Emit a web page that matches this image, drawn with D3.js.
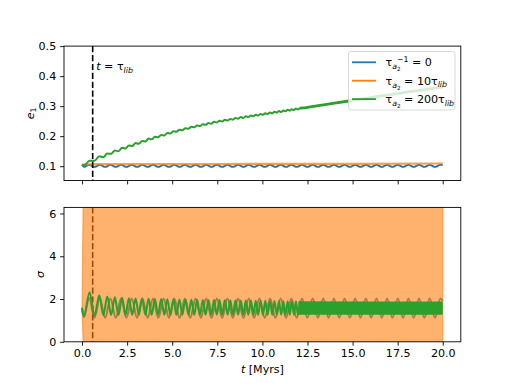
<!DOCTYPE html>
<html><head><meta charset="utf-8">
<script src="https://cdn.jsdelivr.net/npm/d3@7"></script>
<style>body{margin:0;background:#fff} text{font-family:"DejaVu Sans",sans-serif; white-space:pre}</style>
</head><body><svg id="c" width="512" height="384"></svg>
<script>
// ---------------- data ----------------
const tTicks = [0, 2.5, 5, 7.5, 10, 12.5, 15, 17.5, 20];
const eTicks = [0.1, 0.2, 0.3, 0.4, 0.5];
const sigmaTicks = [0, 2, 4, 6];
const tLib = 0.59;
const seriesColors = ["#1f77b4", "#ff7f0e", "#2ca02c"];

// blue: tau_a2^-1 = 0 (extrema times)
const blueT = [0, 0.1, 0.395, 0.69, 0.985, 1.28, 1.575, 1.87, 2.165, 2.46, 2.755,
  3.05, 3.345, 3.64, 3.935, 4.23, 4.525, 4.82, 5.115, 5.41, 5.705,
  6.0, 6.295, 6.59, 6.885, 7.18, 7.475, 7.77, 8.065, 8.36, 8.655,
  8.95, 9.245, 9.54, 9.835, 10.13, 10.425, 10.72, 11.015, 11.31, 11.605,
  11.9, 12.195, 12.49, 12.785, 13.08, 13.375, 13.67, 13.965, 14.26, 14.555,
  14.85, 15.145, 15.44, 15.735, 16.03, 16.325, 16.62, 16.915, 17.21, 17.505,
  17.8, 18.095, 18.39, 18.685, 18.98, 19.275, 19.57, 19.865, 20.0];
const blueE = [0.105,
  0.0975,0.1045, 0.0975,0.1045, 0.0975,0.1045, 0.0975,0.1045, 0.0975,0.1045,
  0.0975,0.1045, 0.0975,0.1045, 0.0975,0.1045, 0.0975,0.1045, 0.0975,0.1045,
  0.0975,0.1045, 0.0975,0.1045, 0.0975,0.1045, 0.0975,0.1045, 0.0975,0.1045,
  0.0975,0.1045, 0.0975,0.1045, 0.0975,0.1045, 0.0975,0.1045, 0.0975,0.1045,
  0.0975,0.1045, 0.0975,0.1045, 0.0975,0.1045, 0.0975,0.1045, 0.0975,0.1045,
  0.0975,0.1045, 0.0975,0.1045, 0.0975,0.1045, 0.0975,0.1045, 0.0975,0.1045,
  0.0975,0.1045, 0.0975,0.1045, 0.0975,0.1045, 0.0975,0.1045,
  0.1035];
const blueSigma = [1.55,
  1.15,2.05, 1.13,2.03, 1.12,2.02, 1.12,2.02, 1.12,2.02,
  1.12,2.02, 1.12,2.02, 1.12,2.02, 1.12,2.02, 1.12,2.02,
  1.12,2.02, 1.12,2.02, 1.12,2.02, 1.12,2.02, 1.12,2.02,
  1.12,2.02, 1.12,2.02, 1.12,2.02, 1.12,2.02, 1.12,2.02,
  1.12,2.02, 1.12,2.02, 1.12,2.02, 1.12,2.02, 1.12,2.02,
  1.12,2.02, 1.12,2.02, 1.12,2.02, 1.12,2.02, 1.12,2.02,
  1.12,2.02, 1.12,2.02, 1.12,2.02, 1.12,2.02,
  1.9];

// orange: tau_a2 = 10 tau_lib
const orangeET = [0, 1, 2, 5, 10, 15, 20];
const orangeE = [0.105, 0.1068, 0.107, 0.107, 0.1075, 0.108, 0.109];
const orangeSigmaT = [0, 0.06, 20];
const orangeSigmaLo = [1.55, 0, 0];
const orangeSigmaHi = [1.55, 6.283, 6.283];

// green: tau_a2 = 200 tau_lib (extrema times up to t = 12)
const greenT = [0, 0.1, 0.42, 0.69, 0.96, 1.18, 1.40, 1.61, 1.82, 2.02, 2.22, 2.41, 2.60, 2.78,
  2.97, 3.15, 3.33, 3.51, 3.69, 3.86, 4.04, 4.21, 4.39, 4.56, 4.73, 4.90, 5.07, 5.23, 5.40,
  5.56, 5.73, 5.90, 6.06, 6.22, 6.38, 6.54, 6.70, 6.85, 7.01, 7.16, 7.32, 7.47, 7.62, 7.77,
  7.92, 8.07, 8.22, 8.36, 8.51, 8.65, 8.80, 8.94, 9.08, 9.22, 9.36, 9.50, 9.63, 9.76, 9.90,
  10.03, 10.16, 10.29, 10.42, 10.55, 10.67, 10.80, 10.92, 11.04, 11.16, 11.28, 11.40, 11.52,
  11.63, 11.75, 11.86, 11.97, 12.08];
const greenSigma = [1.6, 1.2, 2.32,
  1.22,2.18, 1.24,2.12, 1.25,2.08, 1.25,2.06, 1.26,2.04, 1.26,2.03, 1.26,2.02, 1.26,2.01,
  1.26,2.0, 1.26,2.0, 1.26,1.99, 1.26,1.99, 1.26,1.98, 1.26,1.98, 1.26,1.97, 1.26,1.97,
  1.26,1.96, 1.26,1.96, 1.26,1.95, 1.26,1.95, 1.26,1.95, 1.26,1.94, 1.26,1.94, 1.26,1.93,
  1.26,1.93, 1.26,1.93, 1.26,1.92, 1.26,1.92, 1.26,1.92, 1.26,1.91, 1.26,1.91, 1.26,1.91,
  1.26,1.9, 1.26,1.9, 1.26,1.9, 1.26,1.89, 1.26,1.89];
const greenE = [0.105, 0.103, 0.118,
  0.118,0.133, 0.130,0.142, 0.141,0.152, 0.150,0.161, 0.159,0.169, 0.167,0.177,
  0.1745,0.184, 0.182,0.192, 0.1895,0.198, 0.196,0.204, 0.2025,0.2105, 0.2087,0.2161,
  0.2145,0.2211, 0.2195,0.2261, 0.2247,0.2311, 0.2295,0.2357, 0.2337,0.2398, 0.2377,0.2437,
  0.2417,0.2477, 0.2456,0.2512, 0.2488,0.2544, 0.2519,0.2575, 0.2549,0.2605, 0.258,0.2635,
  0.2608,0.2662, 0.2635,0.2689, 0.2662,0.2714, 0.2687,0.274, 0.2713,0.2765, 0.2737,0.2789,
  0.2761,0.2812, 0.2784,0.2835, 0.2806,0.2857, 0.2828,0.2879, 0.285,0.29, 0.2871,0.2921,
  0.2891,0.2941];
const greenTailT = [12.08, 12.5, 13, 14, 15, 16, 17, 18, 19, 20];
const greenTailE = [0.293, 0.296, 0.3006, 0.310, 0.319, 0.328, 0.3374, 0.3464, 0.355, 0.364];
const greenBandT = [12.0, 16, 20];
const greenBandLo = [1.26, 1.26, 1.26];
const greenBandHi = [1.9, 1.88, 1.88];

// ---------------- layout ----------------
const svg = d3.select("#c");
const L = 64, R = 460.8;
const top1 = 46.1, bot1 = 180.5, top2 = 207.4, bot2 = 341.8;
const FS = 11.1;
const x = d3.scaleLinear([-1, 21], [L, R]);
const yE = d3.scaleLinear([0.0523, 0.5], [bot1, top1]);
const yS = d3.scaleLinear([0, 2 * Math.PI], [bot2, top2]);

const defs = svg.append("defs");
defs.append("clipPath").attr("id", "clip1").append("rect")
  .attr("x", L).attr("y", top1).attr("width", R - L).attr("height", bot1 - top1);
defs.append("clipPath").attr("id", "clip2").append("rect")
  .attr("x", L).attr("y", top2).attr("width", R - L).attr("height", bot2 - top2);

const zipPts = (T, V) => T.slice(0, Math.min(T.length, V.length)).map((t, i) => [t, V[i]]);

function styleAxis(g) {
  g.select(".domain").remove();
  g.selectAll(".tick line").attr("stroke", "#000").attr("stroke-width", 0.9);
  g.selectAll(".tick text").attr("fill", "#000").style("font-size", FS + "px")
    .style("font-family", "DejaVu Sans");
}

// ---------- top panel ----------
const p1 = svg.append("g").attr("clip-path", "url(#clip1)");
const lineE = d3.line().x(d => x(d[0])).y(d => yE(d[1])).curve(d3.curveMonotoneX);
p1.append("path").attr("d", lineE(zipPts(blueT, blueE))).attr("fill", "none")
  .attr("stroke", seriesColors[0]).attr("stroke-width", 1.8);
p1.append("path").attr("d", lineE(zipPts(orangeET, orangeE))).attr("fill", "none")
  .attr("stroke", seriesColors[1]).attr("stroke-opacity", 0.75).attr("stroke-width", 2.2);
p1.append("path").attr("d", lineE(zipPts(greenT, greenE))).attr("fill", "none")
  .attr("stroke", seriesColors[2]).attr("stroke-width", 2);
p1.append("path").attr("d", lineE(zipPts(greenTailT, greenTailE))).attr("fill", "none")
  .attr("stroke", seriesColors[2]).attr("stroke-width", 2.8);
p1.append("line").attr("x1", x(tLib)).attr("x2", x(tLib)).attr("y1", top1).attr("y2", bot1)
  .attr("stroke", "#000").attr("stroke-width", 1.6).attr("stroke-dasharray", "6.2,2.7");

svg.append("g").attr("transform", `translate(0,${bot1})`)
  .call(d3.axisBottom(x).tickValues(tTicks).tickSize(3.9).tickFormat(""))
  .call(styleAxis);
svg.append("g").attr("transform", `translate(${L},0)`)
  .call(d3.axisLeft(yE).tickValues(eTicks).tickSize(3.9).tickPadding(3.9).tickFormat(d3.format(".1f")))
  .call(styleAxis);
svg.append("rect").attr("x", L).attr("y", top1).attr("width", R - L).attr("height", bot1 - top1)
  .attr("fill", "none").attr("stroke", "#000").attr("stroke-width", 0.9);

// ---------- bottom panel ----------
const p2 = svg.append("g").attr("clip-path", "url(#clip2)");
const lineS = d3.line().x(d => x(d[0])).y(d => yS(d[1])).curve(d3.curveMonotoneX);
p2.append("path").attr("d", lineS(zipPts(blueT, blueSigma))).attr("fill", "none")
  .attr("stroke", seriesColors[0]).attr("stroke-width", 2);
p2.append("line").attr("x1", x(tLib)).attr("x2", x(tLib)).attr("y1", top2).attr("y2", bot2)
  .attr("stroke", "#000").attr("stroke-width", 1.6).attr("stroke-dasharray", "6.2,2.7");
const orangeBand = orangeSigmaT.map((t, i) => ({ t, lo: orangeSigmaLo[i], hi: orangeSigmaHi[i] }));
p2.append("path").attr("d", d3.area().x(d => x(d.t)).y0(d => yS(d.lo)).y1(d => yS(d.hi))(orangeBand))
  .attr("fill", seriesColors[1]).attr("fill-opacity", 0.6)
  .attr("stroke", seriesColors[1]).attr("stroke-opacity", 0.6).attr("stroke-width", 1.2);
p2.append("path").attr("d", lineS(zipPts(greenT, greenSigma))).attr("fill", "none")
  .attr("stroke", seriesColors[2]).attr("stroke-width", 2);
const gBand = greenBandT.map((t, i) => ({ t, lo: greenBandLo[i], hi: greenBandHi[i] }));
p2.append("path").attr("d", d3.area().x(d => x(d.t)).y0(d => yS(d.lo)).y1(d => yS(d.hi))(gBand))
  .attr("fill", seriesColors[2]);

svg.append("g").attr("transform", `translate(0,${bot2})`)
  .call(d3.axisBottom(x).tickValues(tTicks).tickSize(3.9).tickPadding(3.9).tickFormat(d3.format(".1f")))
  .call(styleAxis);
svg.append("g").attr("transform", `translate(${L},0)`)
  .call(d3.axisLeft(yS).tickValues(sigmaTicks).tickSize(3.9).tickPadding(3.9).tickFormat(d3.format("d")))
  .call(styleAxis);
svg.append("rect").attr("x", L).attr("y", top2).attr("width", R - L).attr("height", bot2 - top2)
  .attr("fill", "none").attr("stroke", "#000").attr("stroke-width", 0.9);

// ---------- math-like text helper ----------
// segs: {t, fs, dy, it, back}  back: start at previous segment's start x (stacked sub/sup)
function mathText(parent, segs, anchor) {
  const g = parent.append("g");
  let cur = 0, prevStart = 0, prevEnd = 0, stackEnd = 0;
  segs.forEach(s => {
    const fs = s.fs || FS;
    const sx = s.back ? prevStart : cur;
    const el = g.append("text").attr("x", sx).attr("y", s.dy || 0)
      .style("font-size", fs + "px").style("font-style", s.it ? "italic" : "normal")
      .attr("fill", "#000").text(s.t);
    const w = el.node().getComputedTextLength();
    if (s.back) { cur = Math.max(prevEnd, sx + w); }
    else { prevStart = sx; cur = sx + w; }
    prevEnd = Math.max(prevEnd, cur);
    if (!s.back) prevEnd = cur;
    if (s.sticky) prevStart = sx;
  });
  const total = cur;
  if (anchor === "middle") g.selectAll("text").attr("x", function () { return +d3.select(this).attr("x") - total / 2; });
  return g;
}

// annotation t = tau_lib
mathText(svg.append("g").attr("transform", `translate(${x(tLib) + 3.5},70)`), [
  { t: "t", it: true }, { t: " = " }, { t: "τ" }, { t: "lib", it: true, fs: 7.8, dy: 2.6 }
]);

// axis labels
mathText(svg.append("g").attr("transform", `translate(33.5,${(top1 + bot1) / 2}) rotate(-90)`), [
  { t: "e", it: true }, { t: "1", fs: 7.8, dy: 2.6 }
], "middle");
mathText(svg.append("g").attr("transform", `translate(43.5,${(top2 + bot2) / 2}) rotate(-90)`), [
  { t: "σ", it: true }
], "middle");
mathText(svg.append("g").attr("transform", `translate(${(L + R) / 2},372.5)`), [
  { t: "t", it: true }, { t: " [Myrs]" }
], "middle");

// ---------- legend ----------
const lg = svg.append("g");
lg.append("rect").attr("x", 348.5).attr("y", 51.5).attr("width", 106.5).attr("height", 58.5)
  .attr("rx", 2.5).attr("fill", "#fff").attr("fill-opacity", 0.8)
  .attr("stroke", "#cccccc").attr("stroke-opacity", 0.8).attr("stroke-width", 0.9);
const rowsY = [62.3, 80.7, 99.1];
const legendLabels = [
  [{ t: "τ" }, { t: "a", it: true, fs: 7.8, dy: 3.0 }, { t: "2", fs: 5.6, dy: 5.2 },
   { t: "−1", fs: 7.8, dy: -4.6, back: true }, { t: " = 0" }],
  [{ t: "τ" }, { t: "a", it: true, fs: 7.8, dy: 3.0 }, { t: "2", fs: 5.6, dy: 5.2 },
   { t: " = 10τ" }, { t: "lib", it: true, fs: 7.8, dy: 2.6 }],
  [{ t: "τ" }, { t: "a", it: true, fs: 7.8, dy: 3.0 }, { t: "2", fs: 5.6, dy: 5.2 },
   { t: " = 200τ" }, { t: "lib", it: true, fs: 7.8, dy: 2.6 }]
];
rowsY.forEach((ry, i) => {
  lg.append("line").attr("x1", 352).attr("x2", 376).attr("y1", ry).attr("y2", ry)
    .attr("stroke", seriesColors[i]).attr("stroke-width", 1.8);
  mathText(lg.append("g").attr("transform", `translate(385.5,${ry + 4})`), legendLabels[i]);
});
</script></body></html>
